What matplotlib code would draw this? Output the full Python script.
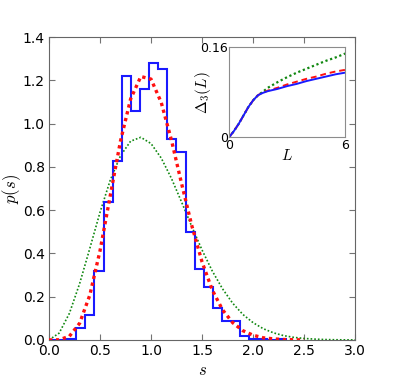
import numpy as np
import matplotlib
matplotlib.use("Agg")
import matplotlib.pyplot as plt

plt.rcParams['font.family'] = ['DejaVu Sans']
plt.rcParams['mathtext.fontset'] = 'cm'

# ---- histogram of spacings (blue) ----
bin_width = 0.0892
hist_heights = [0.0, 0.0, 0.005, 0.057, 0.117, 0.319, 0.639, 0.829, 1.221, 1.060,
                1.160, 1.280, 1.251, 0.929, 0.870, 0.498, 0.327, 0.246, 0.148, 0.086,
                0.086, 0.017, 0.006, 0.006, 0.0, 0.006]

# ---- red curve ----
s_red = [0.0, 0.1, 0.2, 0.3, 0.4, 0.5, 0.6, 0.7, 0.8, 0.9, 1.0, 1.1, 1.2, 1.3,
         1.4, 1.5, 1.6, 1.7, 1.8, 1.9, 2.0, 2.1, 2.2, 2.3, 2.4, 2.5]
p_red = [0.0, 0.001, 0.017, 0.077, 0.207, 0.412, 0.666, 0.918, 1.114, 1.218,
         1.206, 1.098, 0.924, 0.722, 0.528, 0.361, 0.231, 0.140, 0.080, 0.043,
         0.022, 0.010, 0.005, 0.002, 0.001, 0.0]

# ---- green curve ----
s_green = [0.0, 0.1, 0.2, 0.3, 0.4, 0.5, 0.6, 0.7, 0.8, 0.9, 1.0, 1.1, 1.2, 1.3,
           1.4, 1.5, 1.6, 1.7, 1.8, 1.9, 2.0, 2.1, 2.2, 2.3, 2.4, 2.5, 2.6, 2.7,
           2.8, 2.9, 3.0]
p_green = [0.0, 0.032, 0.123, 0.260, 0.423, 0.590, 0.738, 0.851, 0.919, 0.937,
           0.908, 0.841, 0.747, 0.637, 0.524, 0.416, 0.319, 0.237, 0.170, 0.118,
           0.080, 0.052, 0.033, 0.020, 0.012, 0.007, 0.004, 0.002, 0.001, 0.0005, 0.0003]

# ---- inset: Delta_3(L) ----
L_vals = [0.0, 0.25, 0.5, 0.75, 1.0, 1.25, 1.5, 1.75, 2.0, 2.5, 3.0, 3.5, 4.0, 4.5, 5.0, 5.5, 6.0]
d3_blue = [0.0, 0.011, 0.024, 0.039, 0.054, 0.066, 0.075, 0.079, 0.082, 0.086, 0.091,
           0.095, 0.100, 0.104, 0.108, 0.112, 0.115]
d3_red = [0.0, 0.011, 0.024, 0.039, 0.054, 0.066, 0.075, 0.0795, 0.083, 0.088, 0.094,
          0.099, 0.104, 0.108, 0.113, 0.117, 0.120]
d3_green = [0.0, 0.011, 0.024, 0.039, 0.054, 0.066, 0.075, 0.081, 0.088, 0.098, 0.107,
            0.115, 0.122, 0.129, 0.136, 0.142, 0.149]

xticks = [0.0, 0.5, 1.0, 1.5, 2.0, 2.5, 3.0]
yticks = [0.0, 0.2, 0.4, 0.6, 0.8, 1.0, 1.2, 1.4]

fig = plt.figure(figsize=(3.95, 3.79), dpi=100)
ax = fig.add_axes([0.124, 0.103, 0.775, 0.799])

edges = bin_width * np.arange(len(hist_heights) + 1)
ax.stairs(hist_heights, edges, baseline=0, color='#1a1aff', lw=1.5, zorder=3)
ax.plot(s_green, p_green, color='#118811', lw=1.2, linestyle=(0, (1, 1.2)), zorder=2)
ax.plot(s_red, p_red, color='#ff1010', lw=2.4, linestyle=(0, (1, 1.1)), zorder=4)

ax.set_xlim(0, 3)
ax.set_ylim(0, 1.4)
ax.set_xticks(xticks)
ax.set_yticks(yticks)
ax.set_xticklabels(['%.1f' % v for v in xticks])
ax.set_yticklabels(['%.1f' % v for v in yticks])
ax.tick_params(direction='in', top=True, right=True, length=4, labelsize=10,
               color='0.45', pad=3)
for sp in ax.spines.values():
    sp.set_color('0.4')
ax.set_xlabel('$s$', fontsize=12, labelpad=2)
ax.set_ylabel('$p(s)$', fontsize=12)
ax.yaxis.set_label_coords(-0.085, 0.5)

ins = fig.add_axes([0.580, 0.638, 0.294, 0.237])
ins.plot(L_vals, d3_green, color='#118811', lw=1.6, linestyle=(0, (1, 1.2)))
ins.plot(L_vals, d3_red, color='#ff1010', lw=1.4, linestyle=(0, (3, 2)))
ins.plot(L_vals, d3_blue, color='#1a1aff', lw=1.4)
ins.set_xlim(0, 6)
ins.set_ylim(0, 0.16)
ins.set_xticks([0, 6])
ins.set_yticks([0, 0.16])
ins.set_xticklabels(['0', '6'])
ins.set_yticklabels(['0', '0.16'])
ins.tick_params(direction='in', length=0, labelsize=9, pad=1)
for sp in ins.spines.values():
    sp.set_color('0.55')
ins.set_xlabel('$L$', fontsize=11)
ins.xaxis.set_label_coords(0.5, -0.12)
ins.set_ylabel(r'$\Delta_3(L)$', fontsize=11)
ins.yaxis.set_label_coords(-0.138, 0.5)

fig.savefig('out.png', dpi=100)
